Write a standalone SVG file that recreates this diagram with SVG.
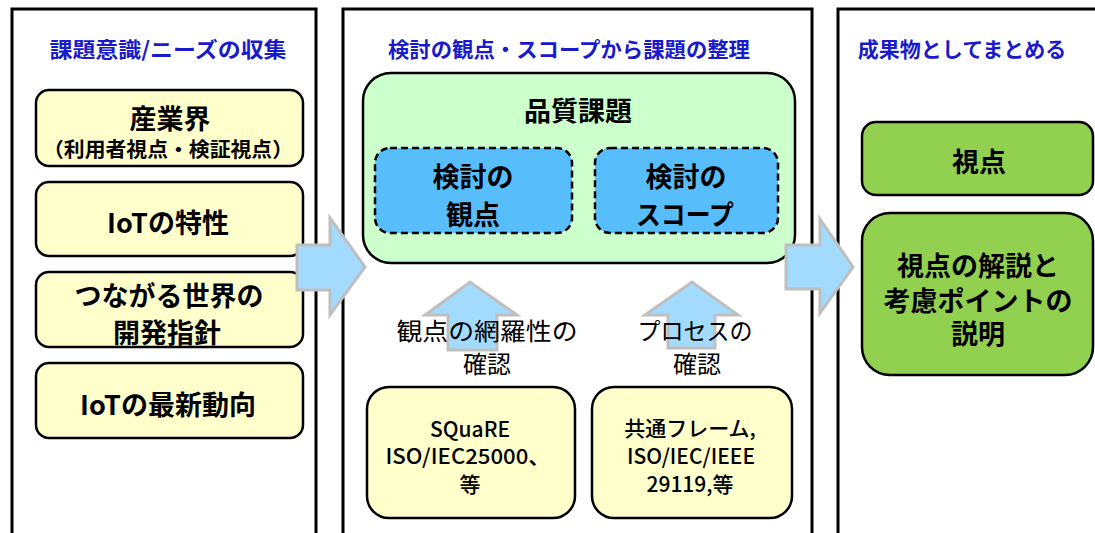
<svg xmlns="http://www.w3.org/2000/svg" width="1095" height="533" viewBox="0 0 1095 533">
<defs>
<style>
.panel{fill:#ffffff;stroke:#000;stroke-width:3}
.ybox{fill:#ffffcc;stroke:#000;stroke-width:2.5}
.gbox{fill:#ccffcc;stroke:#000;stroke-width:2.5}
.bbox{fill:#57bdfb;stroke:#000;stroke-width:2.5;stroke-dasharray:7 4}
.rbox{fill:#92d050;stroke:#000;stroke-width:2.5}
.arrow{fill:#a3dbff;stroke:#bfbfbf;stroke-width:3;stroke-linejoin:miter}
text{font-family:"Noto Sans CJK JP","Noto Sans",sans-serif;text-anchor:middle;dominant-baseline:central;fill:#000}
.title{font-size:21px;font-weight:bold;fill:#1a1acc}
.b{font-weight:bold;font-size:27px}
.n{font-size:21px;font-weight:500}
.lbl{font-size:24px}
</style>
</defs>
<rect x="0" y="0" width="1095" height="533" fill="#ffffff"/>
<g id="panels">
<rect class="panel" x="12" y="9" width="304" height="540"/>
<rect class="panel" x="343" y="9" width="469" height="540"/>
<rect class="panel" x="838" y="9" width="280" height="540"/>
<text class="title" x="168" y="48" textLength="237" lengthAdjust="spacingAndGlyphs">課題意識/ニーズの収集</text>
<text class="title" x="569" y="48" textLength="362" lengthAdjust="spacingAndGlyphs">検討の観点・スコープから課題の整理</text>
<text class="title" x="962" y="48">成果物としてまとめる</text>
</g>
<g id="node-sangyokai">
<rect class="ybox" x="36" y="90" width="267" height="76" rx="13"/>
<text class="b" x="170" y="117" font-size="28">産業界</text>
<text x="168" y="148" font-size="20" font-weight="bold" textLength="250" lengthAdjust="spacingAndGlyphs">（利用者視点・検証視点）</text>
</g>
<g id="node-iot-tokusei">
<rect class="ybox" x="36" y="182" width="267" height="74" rx="13"/>
<text class="b" x="168" y="221">IoTの特性</text>
</g>
<g id="node-tsunagaru">
<rect class="ybox" x="36" y="272" width="267" height="75" rx="13"/>
<text class="b" x="169" y="294">つながる世界の</text>
<text class="b" x="167" y="331">開発指針</text>
</g>
<g id="node-iot-saishin">
<rect class="ybox" x="36" y="363" width="267" height="75" rx="13"/>
<text class="b" x="168" y="403">IoTの最新動向</text>
</g>
<g id="node-hinshitsu">
<rect class="gbox" x="363" y="73" width="432" height="190" rx="28"/>
<text class="b" x="578" y="109" font-size="28">品質課題</text>
</g>
<g id="node-kanten">
<rect class="bbox" x="375" y="148" width="197" height="85" rx="15"/>
<text class="b" x="473" y="175" font-size="28">検討の</text>
<text class="b" x="473" y="213" font-size="28">観点</text>
</g>
<g id="node-scope">
<rect class="bbox" x="595" y="148" width="183" height="85" rx="15"/>
<text class="b" x="686" y="175" font-size="28">検討の</text>
<text class="b" x="685" y="213" font-size="28" textLength="98" lengthAdjust="spacingAndGlyphs">スコープ</text>
</g>
<g id="node-square">
<rect class="ybox" x="367" y="387" width="208" height="131" rx="22"/>
<text class="n" x="470" y="428">SQuaRE</text>
<text class="n" x="468" y="455" textLength="165" lengthAdjust="spacingAndGlyphs">ISO/IEC25000、</text>
<text class="n" x="470" y="483">等</text>
</g>
<g id="node-kyotsu">
<rect class="ybox" x="592" y="387" width="200" height="131" rx="22"/>
<text class="n" x="690" y="427">共通フレーム,</text>
<text class="n" x="691" y="455">ISO/IEC/IEEE</text>
<text class="n" x="690" y="483">29119,等</text>
</g>
<g id="node-shiten">
<rect class="rbox" x="862" y="122" width="231" height="73" rx="14"/>
<text class="b" x="979" y="160" font-size="28">視点</text>
</g>
<g id="node-kaisetsu">
<rect class="rbox" x="862" y="213" width="231" height="162" rx="28"/>
<text class="b" x="978" y="264" font-size="28">視点の解説と</text>
<text class="b" x="978" y="299" font-size="26">考慮ポイントの</text>
<text class="b" x="978" y="332" font-size="28">説明</text>
</g>
<g id="connectors">
<polygon class="arrow" points="297,245 330,245 330,218 365,267 330,315 330,290 297,290"/>
<polygon class="arrow" points="786,245 820,245 820,219 853,267 820,313 820,289 786,289"/>
<polygon class="arrow" points="448,350 448,315 425,315 470,282 517,315 497,315 497,350"/>
<polygon class="arrow" points="668,348 668,315 645,315 692,282 738,315 715,315 715,348"/>
</g>
<g id="connector-labels">
<text class="lbl" x="487" y="329" textLength="181" lengthAdjust="spacingAndGlyphs">観点の網羅性の</text>
<text class="lbl" x="487" y="362">確認</text>
<text class="lbl" x="695" y="329" textLength="115" lengthAdjust="spacingAndGlyphs">プロセスの</text>
<text class="lbl" x="697" y="362">確認</text>
</g>
</svg>
